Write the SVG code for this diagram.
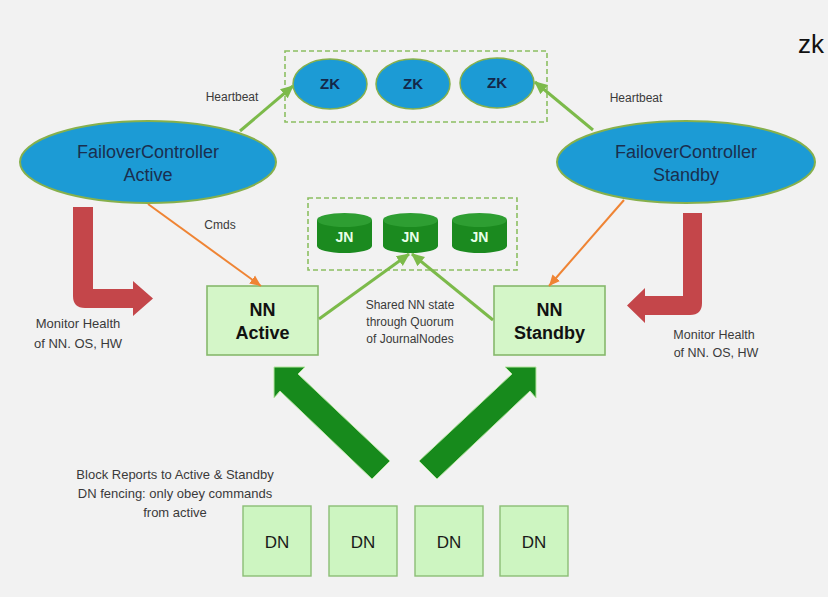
<svg xmlns="http://www.w3.org/2000/svg" width="828" height="597" viewBox="0 0 828 597">
<defs>
<style>
.lbl{font-family:"Liberation Sans",Arial,sans-serif;fill:#3a3a3a;text-anchor:middle}
.fc{fill:#1c9bd5;stroke:#86b04c;stroke-width:2}
.fct{font-family:"Liberation Sans",Arial,sans-serif;font-size:18px;fill:#1a2f4f;text-anchor:middle}
.zk{fill:#1c9bd5;stroke:#86b04c;stroke-width:1.5}
.zkt{font-family:"Liberation Sans",Arial,sans-serif;font-size:15px;font-weight:bold;fill:#14284a;text-anchor:middle}
.dash{fill:none;stroke:#8cbf62;stroke-width:1.6;stroke-dasharray:5 3}
.nn{fill:#d4f6c8;stroke:#86b86c;stroke-width:1.6}
.nnt{font-family:"Liberation Sans",Arial,sans-serif;font-size:18px;font-weight:bold;fill:#111;text-anchor:middle}
.dn{fill:#cdf5c1;stroke:#8cbe76;stroke-width:1.4}
.dnt{font-family:"Liberation Sans",Arial,sans-serif;font-size:17px;fill:#1a1a1a;text-anchor:middle}
.jnb{fill:#1b8a1f}
.jnc{fill:#2e9e32}
.jnt{font-family:"Liberation Sans",Arial,sans-serif;font-size:14px;font-weight:bold;fill:#e8ffe8;text-anchor:middle}
.g{stroke:#7cba4a;stroke-width:3;fill:none}
.o{stroke:#ef8434;stroke-width:2;fill:none}
.red{fill:#c4464a}
.big{fill:#178a1c;stroke:#b6e6a0;stroke-width:1}
</style>
<marker id="ag" markerUnits="userSpaceOnUse" markerWidth="14" markerHeight="14" refX="12" refY="7" orient="auto">
<path d="M0,1 L13,7 L0,13 z" fill="#7cba4a"/>
</marker>
<marker id="ao" markerUnits="userSpaceOnUse" markerWidth="12" markerHeight="12" refX="11" refY="6" orient="auto">
<path d="M0,1 L11,6 L0,11 z" fill="#ef8434"/>
</marker>
</defs>
<rect width="828" height="597" fill="#f2f2f2"/>
<text x="798" y="53" font-family="'Liberation Sans',Arial,sans-serif" font-size="26" fill="#111">zk</text>

<g id="zk-group">
<rect class="dash" x="285" y="51" width="262" height="71"/>
</g>
<g id="zk1"><ellipse class="zk" cx="330" cy="84" rx="37" ry="25"/><text class="zkt" x="330" y="89">ZK</text></g>
<g id="zk2"><ellipse class="zk" cx="413" cy="84" rx="37" ry="25"/><text class="zkt" x="413" y="89">ZK</text></g>
<g id="zk3"><ellipse class="zk" cx="497" cy="83" rx="37" ry="25"/><text class="zkt" x="497" y="88">ZK</text></g>

<g id="fc-active"><ellipse class="fc" cx="148" cy="162" rx="128" ry="41"/>
<text class="fct" x="148" y="158">FailoverController</text><text class="fct" x="148" y="181">Active</text></g>
<g id="fc-standby"><ellipse class="fc" cx="686" cy="162" rx="129" ry="41"/>
<text class="fct" x="686" y="158">FailoverController</text><text class="fct" x="686" y="181">Standby</text></g>

<g id="jn-group"><rect class="dash" x="308" y="198" width="209" height="72"/></g>
<g id="jn1"><path class="jnb" d="M317,220 v26 a27.5,7 0 0 0 55,0 v-26 z"/><ellipse class="jnc" cx="344.5" cy="220" rx="27.5" ry="7"/><text class="jnt" x="344.5" y="242">JN</text></g>
<g id="jn2"><path class="jnb" d="M383,220 v26 a27.5,7 0 0 0 55,0 v-26 z"/><ellipse class="jnc" cx="410.5" cy="220" rx="27.5" ry="7"/><text class="jnt" x="410.5" y="242">JN</text></g>
<g id="jn3"><path class="jnb" d="M452,220 v26 a27.5,7 0 0 0 55,0 v-26 z"/><ellipse class="jnc" cx="479.5" cy="220" rx="27.5" ry="7"/><text class="jnt" x="479.5" y="242">JN</text></g>

<g id="nn-active"><rect class="nn" x="207" y="286" width="111" height="69"/>
<text class="nnt" x="262.5" y="316">NN</text><text class="nnt" x="262.5" y="339">Active</text></g>
<g id="nn-standby"><rect class="nn" x="494" y="286" width="111" height="69"/>
<text class="nnt" x="549.5" y="316">NN</text><text class="nnt" x="549.5" y="339">Standby</text></g>

<g id="dn1"><rect class="dn" x="243" y="506" width="68" height="70"/><text class="dnt" x="277" y="548">DN</text></g>
<g id="dn2"><rect class="dn" x="329" y="506" width="68" height="70"/><text class="dnt" x="363" y="548">DN</text></g>
<g id="dn3"><rect class="dn" x="415" y="506" width="68" height="70"/><text class="dnt" x="449" y="548">DN</text></g>
<g id="dn4"><rect class="dn" x="500" y="506" width="68" height="70"/><text class="dnt" x="534" y="548">DN</text></g>

<g id="connectors">
<line class="g" x1="240" y1="131" x2="293" y2="86" marker-end="url(#ag)"/>
<line class="g" x1="593" y1="130" x2="535" y2="82" marker-end="url(#ag)"/>
<line class="o" x1="148" y1="204" x2="261" y2="286" marker-end="url(#ao)"/>
<line class="o" x1="624" y1="200" x2="549" y2="286" marker-end="url(#ao)"/>
<line class="g" x1="319" y1="319" x2="409" y2="254" marker-end="url(#ag)"/>
<line class="g" x1="493" y1="320" x2="412" y2="254" marker-end="url(#ag)"/>
<path class="red" d="M73,207 H93 V289 H133 V281 L153,298.5 L133,316 V308 H85 Q73,308 73,296 Z"/>
<path class="red" d="M683,213 H702 V303 Q702,315 690,315 H645 V323 L627,305.5 L645,288 V296 H683 Z"/>
<polygon class="big" points="274,367 305,367 298,374 390,461 372,479 280,391 274,398"/>
<polygon class="big" points="536,367 536,398 530,391 437,479 419,461 512,374 505,367"/>
</g>

<g id="labels">
<text class="lbl" x="232" y="101" font-size="12">Heartbeat</text>
<text class="lbl" x="636" y="102" font-size="12">Heartbeat</text>
<text class="lbl" x="220" y="229" font-size="12">Cmds</text>
<text class="lbl" x="410" y="309" font-size="12">Shared NN state</text>
<text class="lbl" x="410" y="326" font-size="12">through Quorum</text>
<text class="lbl" x="410" y="343" font-size="12">of JournalNodes</text>
<text class="lbl" x="78" y="328" font-size="13">Monitor Health</text>
<text class="lbl" x="78" y="348" font-size="13">of NN. OS, HW</text>
<text class="lbl" x="714" y="339" font-size="12.5">Monitor Health</text>
<text class="lbl" x="716" y="357" font-size="12.5">of NN. OS, HW</text>
<text class="lbl" x="175" y="479" font-size="13">Block Reports to Active &amp; Standby</text>
<text class="lbl" x="175" y="498" font-size="13">DN fencing: only obey commands</text>
<text class="lbl" x="175" y="517" font-size="13">from active</text>
</g>
</svg>
